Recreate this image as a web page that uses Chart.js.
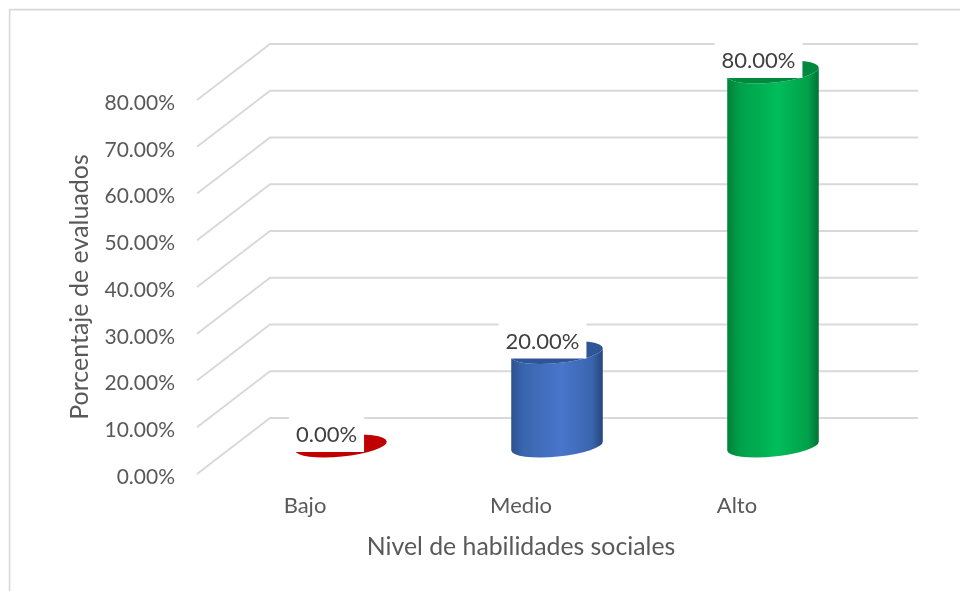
<!DOCTYPE html>
<html><head><meta charset="utf-8">
<style>html,body{margin:0;padding:0;background:#fff}canvas{display:block}</style>
<script src="https://cdn.jsdelivr.net/npm/chart.js@4"></script>
</head><body><canvas id="c" width="960" height="591"></canvas>
<script>
const categories = ["Bajo", "Medio", "Alto"];
const values = [0, 20, 80];
const yTickLabels = ["0.00%","10.00%","20.00%","30.00%","40.00%","50.00%","60.00%","70.00%","80.00%"];
const xTitle = "Nivel de habilidades sociales";
const yTitle = "Porcentaje de evaluados";
const barMid = ["#c00000", "#4876cb", "#00bd5a"];
const barInner = ["#c00000", "#3a65ae", "#00a049"];
const barLeft = ["#c00000", "#2d5190", "#00813b"];
const barRight = ["#c00000", "#25447c", "#007335"];
const barTop = ["#c00000", "#2f5597", "#008a3e"];

const FONT = "Lato";
const DEPTH_X = 73, DEPTH_Y = 56;
const GRID = "#d9d9d9";

const cylinder3d = {
  id: "cylinder3d",
  beforeDraw(chart) {
    const ctx = chart.ctx, y = chart.scales.y, a = chart.chartArea;
    ctx.save();
    ctx.strokeStyle = GRID; ctx.lineWidth = 1.6;
    ctx.beginPath(); ctx.moveTo(960, 9.6); ctx.lineTo(9.6, 9.6); ctx.lineTo(9.6, 591); ctx.stroke();
    ctx.lineWidth = 2;
    y.ticks.forEach(t => {
      const py = y.getPixelForValue(t.value);
      ctx.beginPath();
      ctx.moveTo(a.left, py);
      ctx.lineTo(a.left + DEPTH_X, py - DEPTH_Y);
      ctx.lineTo(a.right + 73, py - DEPTH_Y);
      ctx.stroke();
    });
    ctx.restore();
  },
  beforeDatasetDraw(chart, args) {
    const ctx = chart.ctx, meta = args.meta;
    meta.data.forEach((bar, i) => {
      const cx = bar.x + DEPTH_X / 2 - 0.5;
      const rx = bar.width / 2, ry = 10.5, rot = -0.1;
      const topY = bar.y - DEPTH_Y / 2, baseY = bar.base - DEPTH_Y / 2;
      const dx = rx * Math.cos(rot), dy = rx * Math.sin(rot);
      const g = ctx.createLinearGradient(cx - rx, 0, cx + rx, 0);
      g.addColorStop(0, barLeft[i]);
      g.addColorStop(0.14, barInner[i]);
      g.addColorStop(0.55, barMid[i]);
      g.addColorStop(0.88, barInner[i]);
      g.addColorStop(1, barRight[i]);
      ctx.save();
      ctx.fillStyle = g;
      ctx.beginPath();
      ctx.moveTo(cx - dx, topY - dy);
      ctx.lineTo(cx - dx, baseY - dy);
      ctx.ellipse(cx, baseY, rx, ry, rot, Math.PI, 0, true);
      ctx.lineTo(cx + dx, topY + dy);
      ctx.ellipse(cx, topY, rx, ry, rot, 0, Math.PI, false);
      ctx.closePath();
      ctx.fill();
      ctx.fillStyle = barTop[i];
      ctx.beginPath();
      ctx.ellipse(cx, topY, rx, ry, rot, 0, Math.PI * 2);
      ctx.fill();
      ctx.restore();
    });
    return false;
  },
  afterDatasetsDraw(chart) {
    const ctx = chart.ctx, meta = chart.getDatasetMeta(0);
    ctx.save();
    ctx.font = "22px " + FONT;
    ctx.textAlign = "center";
    ctx.textBaseline = "middle";
    meta.data.forEach((bar, i) => {
      const lx = bar.x + DEPTH_X / 2 - 15;
      const ly = bar.y - DEPTH_Y / 2 - 12;
      const txt = yTickLabels[values[i] / 10];
      const w = ctx.measureText(txt).width + 14;
      ctx.fillStyle = "#fff";
      ctx.fillRect(lx - w / 2, ly - 18, w, 36);
      ctx.fillStyle = "#404040";
      ctx.fillText(txt, lx, ly + 1);
    });
    ctx.restore();
  }
};

new Chart(document.getElementById("c"), {
  type: "bar",
  data: { labels: categories, datasets: [{ data: values, backgroundColor: barMid, barThickness: 92 }] },
  plugins: [cylinder3d],
  options: {
    responsive: false, animation: false,
    layout: { padding: { left: 0, top: 100, right: 115, bottom: 0 } },
    plugins: { legend: { display: false }, tooltip: { enabled: false } },
    scales: {
      x: {
        grid: { display: false }, border: { display: false },
        ticks: { color: "#595959", font: { family: FONT, size: 22 }, padding: 11, maxRotation: 0 },
        title: { display: true, text: xTitle, color: "#595959", font: { family: FONT, size: 24.8 }, padding: { top: 0, bottom: 29 } },
        afterFit: s => { s.height = 117; }
      },
      y: {
        min: 0, max: 80,
        grid: { display: false }, border: { display: false },
        ticks: { stepSize: 10, color: "#595959", font: { family: FONT, size: 21 }, padding: 14, labelOffset: 3,
                 callback: (v, i) => yTickLabels[i] },
        title: { display: true, text: yTitle, color: "#595959", font: { family: FONT, size: 25 }, padding: { top: 65, bottom: 0 } },
        afterFit: s => { s.width = 197; }
      }
    }
  }
});
</script></body></html>
